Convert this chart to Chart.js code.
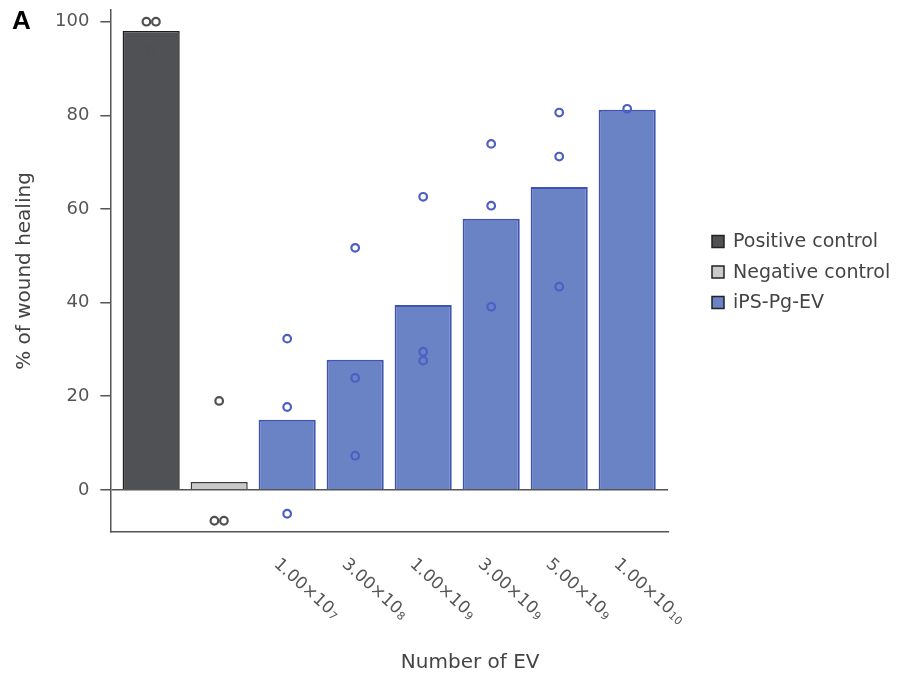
<!DOCTYPE html>
<html>
<head>
<meta charset="utf-8">
<script src="https://cdn.jsdelivr.net/npm/chart.js@4.4.1/dist/chart.umd.min.js"></script>
<style>
  html,body{margin:0;background:#fff;}
  #wrap{width:903px;height:676px;}
</style>
</head>
<body>
<div id="wrap"><canvas id="woundChart"></canvas></div>
<script>
// ---- data ----
const categories   = ['Positive control','Negative control','1.00×10⁷','3.00×10⁸','1.00×10⁹','3.00×10⁹','5.00×10⁹','1.00×10¹⁰'];
const tickBase     = ['', '', '1.00×10','3.00×10','1.00×10','3.00×10','5.00×10','1.00×10'];
const tickExp      = ['', '', '7','8','9','9','9','10'];
const seriesNames  = ['Positive control','Negative control','iPS-Pg-EV'];
const seriesOf     = [0,1,2,2,2,2,2,2];
const meanHealing  = [98, 1.7, 15, 27.8, 39.5, 57.9, 64.7, 81.2];
const replicates   = [[100,100,94],[19,-6.6,-6.6],[32.3,17.7,-5.1],[51.7,23.9,7.3],[62.6,29.5,27.6],[73.9,60.7,39.1],[80.6,71.2,43.4],[81.4]];
const yTicks       = [0,20,40,60,80,100];

// ---- styles ----
const FONT = '"DejaVu Sans", Arial, sans-serif';
const barFill   = ['#505155','#c9cacc','#6a83c5'];
const barBorder = ['#1c1c1c','#3a3a3a','#3f53b3'];
const dotColor  = ['#505050','#505050','#4d5fc2'];

// bars: one dataset per series, x = category index
const barSets = seriesNames.map((name,s)=>({
  type:'bar',
  label:name,
  data: meanHealing.map((v,i)=>({x:i,y:v})).filter((p,i)=>seriesOf[i]===s),
  backgroundColor: barFill[s],
  borderColor: barBorder[s],
  borderWidth: s===2 ? 2 : 1.5,
  grouped:false,
  categoryPercentage:1,
  barPercentage:0.84,
  order:2
}));

// replicate points, ties spread a little sideways
function pointsFor(s){
  const out=[];
  replicates.forEach((vals,i)=>{
    if (seriesOf[i]!==s) return;
    vals.forEach((v,k)=>{
      const ties = vals.filter(w=>w===v).length;
      const rank = vals.slice(0,k).filter(w=>w===v).length;
      const dx = ties>1 ? (rank===0 ? -0.07 : 0.07) : 0;
      out.push({x:i+dx, y:v});
    });
  });
  return out;
}
const dotSets = seriesNames.map((name,s)=>({
  type:'scatter',
  label:name+' replicates',
  data: pointsFor(s),
  pointRadius:3.8,
  pointBorderWidth:2.2,
  pointBorderColor:dotColor[s],
  pointBackgroundColor:'transparent',
  showLine:false,
  order:1
}));

// ---- plugins ----
const panelLetter = {
  id:'panelLetter',
  afterDraw(chart){
    const c=chart.ctx;
    c.save();
    c.font='bold 26px "Liberation Sans", Arial, sans-serif';
    c.fillStyle='#000';
    c.textBaseline='middle';
    c.fillText('A',12,22);
    c.restore();
  }
};

const slantedTicks = {
  id:'slantedTicks',
  afterDraw(chart){
    const c=chart.ctx, xs=chart.scales.x, bottom=chart.chartArea.bottom;
    c.save();
    c.fillStyle='#555';
    c.textBaseline='middle';
    c.textAlign='left';
    tickBase.forEach((t,i)=>{
      if(!t) return;
      const px = xs.getPixelForValue(i);
      c.save();
      c.translate(px-11, bottom+30);
      c.rotate(42*Math.PI/180);
      c.font='17px '+FONT;
      c.fillText(t,0,0);
      const w=c.measureText(t).width;
      c.font='11px '+FONT;
      c.fillText(tickExp[i],w+1,3);
      c.restore();
    });
    // axis title, centred under the EV group as in the figure
    const mid = (xs.getPixelForValue(2)+xs.getPixelForValue(7))/2 + 13;
    c.font='20px '+FONT;
    c.fillStyle='#444';
    c.textAlign='center';
    c.fillText('Number of EV', mid, 663);
    c.restore();
  }
};

const sideLegend = {
  id:'sideLegend',
  afterDraw(chart){
    const c=chart.ctx, a=chart.chartArea;
    const mid=(a.top+a.bottom)/2;
    c.save();
    c.font='19px '+FONT;
    c.textBaseline='middle';
    barSets.forEach((ds,i)=>{
      const y = mid + (i-1)*30.5 + 1;
      c.fillStyle=ds.backgroundColor;
      c.fillRect(712,y-6,12,12);
      c.strokeStyle='#222';
      c.lineWidth=1.5;
      c.strokeRect(712,y-6,12,12);
      c.fillStyle='#444';
      c.fillText(ds.label,733,y+1);
    });
    c.restore();
  }
};

new Chart(document.getElementById('woundChart'),{
  data:{ datasets:[...dotSets, ...barSets] },
  options:{
    responsive:true,
    maintainAspectRatio:false,
    animation:false,
    events:[],
    layout:{ padding:{ top:10, right:235, bottom:144, left:4 } },
    plugins:{ legend:{display:false}, tooltip:{enabled:false} },
    scales:{
      x:{
        type:'linear',
        min:-0.6, max:7.6,
        offset:false,
        afterBuildTicks(scale){ scale.ticks = categories.map((c,i)=>({value:i})); },
        grid:{ display:true, offset:false, drawOnChartArea:false, drawTicks:false },
        border:{ display:true, color:'#555', width:1.5 },
        ticks:{ display:false }
      },
      y:{
        min:-9, max:102.5,
        afterBuildTicks(scale){ scale.ticks = yTicks.map(v=>({value:v})); },
        afterFit(scale){ scale.paddingTop = 0; },
        grid:{
          drawOnChartArea:true,
          color:(c)=> c.tick && c.tick.value===0 ? '#555' : 'rgba(0,0,0,0)',
          lineWidth:1.5,
          tickColor:'#555',
          tickLength:10
        },
        border:{ display:true, color:'#555', width:1.5 },
        ticks:{ color:'#555', padding:11, font:{family:FONT,size:18} },
        title:{ display:true, text:'% of wound healing', color:'#444', font:{family:FONT,size:20}, padding:{top:9,bottom:7} }
      }
    }
  },
  plugins:[panelLetter, slantedTicks, sideLegend]
});
</script>
</body>
</html>
